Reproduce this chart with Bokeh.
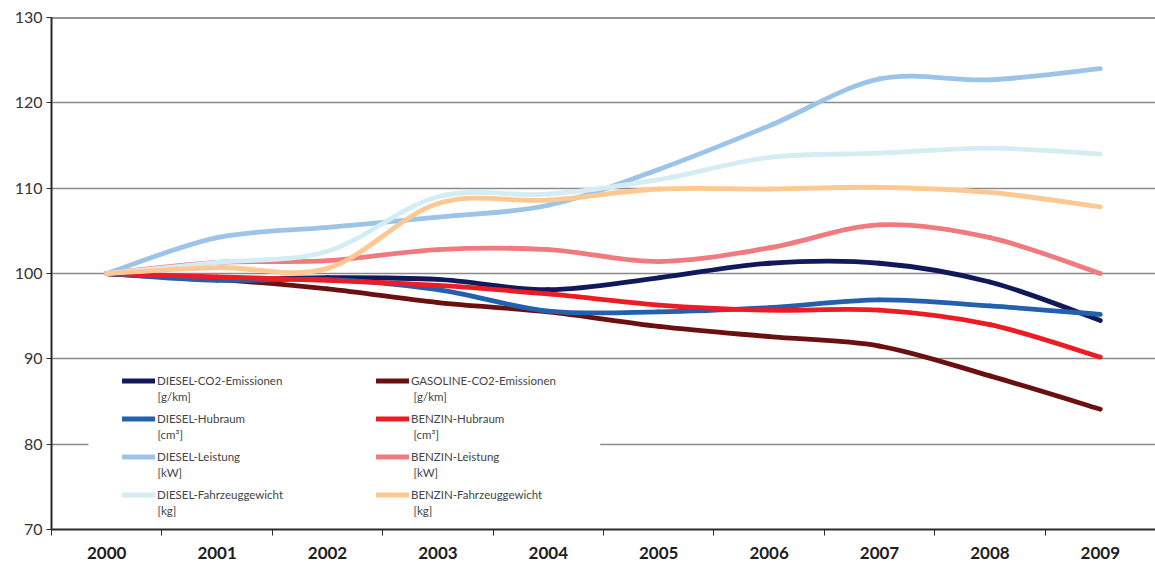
import numpy as np
from bokeh.plotting import figure
from bokeh.models import (Range1d, FixedTicker, Legend, LegendItem, Label, Span,
                          BoxAnnotation, ColumnDataSource)
from bokeh.embed import file_html
from bokeh.resources import INLINE

years = [2000, 2001, 2002, 2003, 2004, 2005, 2006, 2007, 2008, 2009]

diesel_co2 = [100, 99.3, 99.5, 99.3, 98.1, 99.5, 101.2, 101.2, 99.0, 94.5]
gasoline_co2 = [100, 99.3, 98.2, 96.6, 95.5, 93.8, 92.6, 91.5, 88.0, 84.1]
diesel_hubraum = [100, 99.2, 99.3, 98.1, 95.6, 95.5, 96.0, 96.9, 96.2, 95.2]
benzin_hubraum = [100, 99.6, 99.2, 98.6, 97.6, 96.3, 95.7, 95.7, 94.0, 90.2]
diesel_leistung = [100, 104.2, 105.4, 106.6, 108.0, 112.2, 117.3, 122.8, 122.7, 124.0]
benzin_leistung = [100, 101.3, 101.5, 102.8, 102.8, 101.4, 103.0, 105.7, 104.2, 100.0]
diesel_gewicht = [100, 101.3, 102.6, 109.0, 109.3, 111.0, 113.6, 114.1, 114.7, 114.0]
benzin_gewicht = [100, 100.7, 100.6, 108.2, 108.6, 109.9, 109.9, 110.1, 109.5, 107.8]

series_names = ["DIESEL-CO2-Emissionen", "GASOLINE-CO2-Emissionen",
                "DIESEL-Hubraum", "BENZIN-Hubraum",
                "DIESEL-Leistung", "BENZIN-Leistung",
                "DIESEL-Fahrzeuggewicht", "BENZIN-Fahrzeuggewicht"]
series_units = ["[g/km]", "[g/km]", "[cm³]", "[cm³]", "[kW]", "[kW]", "[kg]", "[kg]"]
series_values = [diesel_co2, gasoline_co2, diesel_hubraum, benzin_hubraum,
                 diesel_leistung, benzin_leistung, diesel_gewicht, benzin_gewicht]
series_colors = ["#12195a", "#6b1010", "#2360ad", "#ed1c24",
                 "#9bc4e8", "#f07a7d", "#d3edf3", "#fdc891"]

FONT = "Lato"

p = figure(width=1155, height=563, output_backend="svg", toolbar_location=None,
           x_range=Range1d(1999.5, 2009.5), y_range=Range1d(70, 130),
           min_border_left=51, min_border_top=17, min_border_right=0,
           min_border_bottom=34)
p.outline_line_color = None
p.background_fill_color = "white"

# Y axis
p.yaxis.ticker = FixedTicker(ticks=[70, 80, 90, 100, 110, 120, 130])
p.yaxis.axis_line_color = "#2b2b2b"
p.yaxis.axis_line_width = 2
p.yaxis.major_tick_line_color = "#2b2b2b"
p.yaxis.major_tick_out = 5
p.yaxis.major_tick_in = 0
p.yaxis.minor_tick_line_color = None
p.yaxis.major_label_text_font = FONT
p.yaxis.major_label_text_font_size = "16px"
p.yaxis.major_label_text_color = "#333333"
p.yaxis.major_label_standoff = 4

# X axis
p.xaxis.ticker = FixedTicker(ticks=years, minor_ticks=[y - 0.5 for y in years] + [2009.5])
p.xaxis.axis_line_color = "#2b2b2b"
p.xaxis.axis_line_width = 2
p.xaxis.major_tick_line_color = None
p.xaxis.minor_tick_line_color = "#2b2b2b"
p.xaxis.minor_tick_out = 6
p.xaxis.minor_tick_in = 0
p.xaxis.major_label_text_font = FONT
p.xaxis.major_label_text_font_style = "bold"
p.xaxis.major_label_text_font_size = "17px"
p.xaxis.major_label_text_color = "#1e1e1e"
p.xaxis.major_label_standoff = 11

p.xgrid.grid_line_color = None
p.ygrid.ticker = FixedTicker(ticks=[80, 90, 100, 110, 120])
p.ygrid.grid_line_color = "#8a8a8a"
p.ygrid.grid_line_width = 1.3

p.add_layout(Span(location=130, dimension="width", line_color="#2b2b2b", line_width=2))

# white panel behind the legend (hides the gridline there)
p.add_layout(BoxAnnotation(left=1999.835, right=2004.47, bottom=70.3, top=89.2,
                           fill_color="white", fill_alpha=1.0, line_color=None,
                           level="underlay"))

# smooth lines via cubic Bezier segments through the data points
xs = np.array(years, dtype=float)
renderers = []
for name, vals, col in zip(series_names, series_values, series_colors):
    ys = np.array(vals, dtype=float)
    n = len(xs)
    xp = np.concatenate([[xs[0]], xs, [xs[-1]]])
    yp = np.concatenate([[ys[0]], ys, [ys[-1]]])
    t = 1.0 / 6.0
    cx0 = xs[:-1] + (xp[2:n + 1] - xp[0:n - 1]) * t
    cy0 = ys[:-1] + (yp[2:n + 1] - yp[0:n - 1]) * t
    cx1 = xs[1:] - (xp[3:n + 2] - xp[1:n]) * t
    cy1 = ys[1:] - (yp[3:n + 2] - yp[1:n]) * t
    src = ColumnDataSource(dict(x0=xs[:-1], y0=ys[:-1], x1=xs[1:], y1=ys[1:],
                                cx0=cx0, cy0=cy0, cx1=cx1, cy1=cy1))
    r = p.bezier(x0="x0", y0="y0", x1="x1", y1="y1", cx0="cx0", cy0="cy0",
                 cx1="cx1", cy1="cy1", source=src, line_color=col, line_width=4.8,
                 line_cap="round")
    renderers.append(r)

# legend filled column-wise: left column = even entries, right column = odd entries
order = [0, 2, 4, 6, 1, 3, 5, 7]
legend_items = [LegendItem(label=series_names[i], renderers=[renderers[i]], index=0)
                for i in order]

legend = Legend(items=legend_items, ncols=2, location=(71, 27),
                glyph_width=33, glyph_height=15, label_standoff=2,
                label_width=196, label_height=15, spacing=23, padding=10,
                label_text_font=FONT, label_text_font_size="11.5px",
                label_text_color="#444444", border_line_color=None,
                background_fill_alpha=0.0, margin=0)
p.add_layout(legend)

# unit lines under each legend entry
for i, u in enumerate(series_units):
    col = i % 2
    row = i // 2
    p.add_layout(Label(x=106 + col * 256, y=529 - 396 - row * 38, x_units="screen",
                       y_units="screen", text=u, text_font=FONT,
                       text_font_size="11.5px", text_color="#444444",
                       text_baseline="middle", level="overlay"))

open("out.html", "w").write(file_html(p, INLINE))
